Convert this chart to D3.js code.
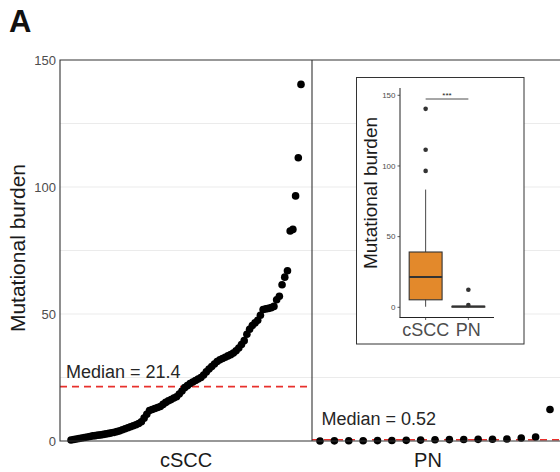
<!DOCTYPE html>
<html>
<head>
<meta charset="utf-8">
<script src="https://cdn.jsdelivr.net/npm/d3@7"></script>
<style>
	body { margin: 0; background: #fff; }
	svg { display: block; font-family: "Liberation Sans", Arial, sans-serif; }
</style>
</head>
<body>
<div id="chart-area"></div>
<script>
// data
const groups = ["cSCC", "PN"]
const cSCC = [0.4, 0.6, 0.8, 1.0, 1.2, 1.4, 1.6, 1.8, 2.0, 2.1, 2.3, 2.4, 2.6, 2.8, 3.0, 3.2, 3.4, 3.7, 4.0, 4.4,
	4.8, 5.2, 5.6, 6.0, 6.4, 6.9, 7.6, 9.0, 10.5, 12.0, 12.4, 12.8, 13.2, 13.6, 14.4, 15.2, 15.8, 16.3, 16.9, 17.4,
	18.5, 19.7, 21.0, 21.8, 22.6, 23.2, 23.8, 24.4, 25.0, 26.0, 27.2, 28.3, 29.3, 30.3, 31.3, 32.0, 32.5, 33.0, 33.5, 34.0,
	34.6, 35.5, 36.6, 38.0, 39.5, 42.0, 44.0, 45.5, 46.5, 47.5, 49.5, 51.8, 52.0, 52.2, 52.5, 53.0, 55.6, 57.0, 61.5, 64.5,
	67.0, 82.7, 83.3, 96.5, 111.5, 140.4]
const PN = [0.02, 0.05, 0.08, 0.1, 0.15, 0.2, 0.25, 0.35, 0.52, 0.55, 0.6, 0.65, 0.7, 0.8, 1.2, 1.6, 12.4]
const yTicks = [0, 50, 100, 150]
const gridValues = [25, 50, 75, 100, 125]
const insetTicks = [0, 50, 100, 150]

const PANEL = { TOP: 60, BOTTOM: 441, LEFT: 60, MID: 312, RIGHT: 566 }
const FONT_INK = "#1a1a1a"
const TICK_INK = "#4d4d4d"

const svg = d3.select("#chart-area").append("svg")
	.attr("width", 560)
	.attr("height", 472)

// scales
const y = d3.scaleLinear().domain([0, 150]).range([PANEL.BOTTOM, PANEL.TOP])
const xC = d3.scaleLinear().domain([0, cSCC.length - 1]).range([PANEL.LEFT + 11, PANEL.MID - 11])
const xP = d3.scaleLinear().domain([0, PN.length - 1]).range([PANEL.MID + 8, 550])

const panels = [
	{ name: "cSCC", values: cSCC, x: xC, x0: PANEL.LEFT, x1: PANEL.MID, labelX: 186, medX: 66, medY: 378 },
	{ name: "PN", values: PN, x: xP, x0: PANEL.MID, x1: PANEL.RIGHT, labelX: 428, medX: 321.5, medY: 425 }
]

// panel label
svg.append("text")
	.attr("x", 9)
	.attr("y", 32)
	.attr("font-size", 31)
	.attr("font-weight", "bold")
	.attr("fill", "#111")
	.text("A")

// grid lines
panels.forEach(p => {
	svg.append("g").selectAll("line").data(gridValues).join("line")
		.attr("x1", p.x0).attr("x2", p.x1)
		.attr("y1", d => y(d)).attr("y2", d => y(d))
		.attr("stroke", "#ebebeb")
		.attr("stroke-width", 1)
})

// y tick labels
svg.append("g").selectAll("text").data(yTicks).join("text")
	.attr("x", 56)
	.attr("y", d => y(d) + 4.5)
	.attr("text-anchor", "end")
	.attr("font-size", 13)
	.attr("fill", TICK_INK)
	.text(d => d)

// y title
svg.append("text")
	.attr("transform", "translate(25, 248) rotate(-90)")
	.attr("text-anchor", "middle")
	.attr("font-size", 21)
	.attr("fill", FONT_INK)
	.text("Mutational burden")

panels.forEach(p => {
	const med = d3.median(p.values)

	// median line
	svg.append("line")
		.attr("x1", p.x0).attr("x2", p.x1)
		.attr("y1", y(med)).attr("y2", y(med))
		.attr("stroke", "#e8302c")
		.attr("stroke-width", 1.6)
		.attr("stroke-dasharray", "7,5")

	// points
	svg.append("g").selectAll("circle").data(p.values).join("circle")
		.attr("cx", (d, i) => p.x(i))
		.attr("cy", d => y(d))
		.attr("r", 3.8)
		.attr("fill", "#000")

	svg.append("text")
		.attr("x", p.medX)
		.attr("y", p.medY)
		.attr("font-size", 18)
		.attr("fill", "#262626")
		.text(`Median = ${+med.toFixed(2)}`)

	// x label
	svg.append("text")
		.attr("x", p.labelX)
		.attr("y", 467)
		.attr("text-anchor", "middle")
		.attr("font-size", 20)
		.attr("fill", FONT_INK)
		.text(p.name)
})

// panel borders
const border = d3.path()
border.moveTo(PANEL.RIGHT, PANEL.TOP)
border.lineTo(PANEL.LEFT, PANEL.TOP)
border.lineTo(PANEL.LEFT, PANEL.BOTTOM)
border.lineTo(PANEL.RIGHT, PANEL.BOTTOM)
border.moveTo(PANEL.MID, PANEL.TOP)
border.lineTo(PANEL.MID, PANEL.BOTTOM)
svg.append("path")
	.attr("d", border.toString())
	.attr("fill", "none")
	.attr("stroke", "#333")
	.attr("stroke-width", 1.1)

//////////////////// INSET BOXPLOT ////////////////////
const inset = svg.append("g")

inset.append("rect")
	.attr("x", 356.5).attr("y", 77.5)
	.attr("width", 167.5).attr("height", 266.5)
	.attr("fill", "#fff")
	.attr("stroke", "#333")
	.attr("stroke-width", 1)

const yi = d3.scaleLinear().domain([0, 150]).range([307.3, 95.3])
const xi = d3.scalePoint().domain(groups).range([400, 494]).padding(0.6)
const boxW = xi.step() * 0.77

// axes
inset.append("line")
	.attr("x1", 400).attr("x2", 400).attr("y1", 88).attr("y2", 317.5)
	.attr("stroke", "#222").attr("stroke-width", 1)
inset.append("line")
	.attr("x1", 399.5).attr("x2", 494).attr("y1", 317.5).attr("y2", 317.5)
	.attr("stroke", "#222").attr("stroke-width", 1)

inset.append("g").selectAll("line").data(insetTicks).join("line")
	.attr("x1", 397.5).attr("x2", 400)
	.attr("y1", d => yi(d)).attr("y2", d => yi(d))
	.attr("stroke", "#333").attr("stroke-width", 0.8)
inset.append("g").selectAll("text").data(insetTicks).join("text")
	.attr("x", 395.5)
	.attr("y", d => yi(d) + 2.8)
	.attr("text-anchor", "end")
	.attr("font-size", 8)
	.attr("fill", TICK_INK)
	.text(d => d)

inset.append("g").selectAll("line").data(groups).join("line")
	.attr("x1", d => xi(d)).attr("x2", d => xi(d))
	.attr("y1", 317.5).attr("y2", 320)
	.attr("stroke", "#333").attr("stroke-width", 0.8)
inset.append("g").selectAll("text").data(groups).join("text")
	.attr("x", d => xi(d))
	.attr("y", 336)
	.attr("text-anchor", "middle")
	.attr("font-size", 18)
	.attr("fill", TICK_INK)
	.text(d => d)

inset.append("text")
	.attr("transform", "translate(377, 193) rotate(-90)")
	.attr("text-anchor", "middle")
	.attr("font-size", 19)
	.attr("fill", FONT_INK)
	.text("Mutational burden")

// box statistics
const stats = panels.map(p => {
	const s = p.values.slice().sort(d3.ascending)
	const q1 = d3.quantile(s, 0.25)
	const q2 = d3.quantile(s, 0.5)
	const q3 = d3.quantile(s, 0.75)
	const iqr = q3 - q1
	const lo = d3.min(s.filter(v => v >= q1 - 1.5 * iqr))
	const hi = d3.max(s.filter(v => v <= q3 + 1.5 * iqr))
	const out = s.filter(v => v < lo || v > hi)
	return { name: p.name, q1, q2, q3, lo, hi, out }
})

stats.forEach(s => {
	const cx = xi(s.name)
	inset.append("line")
		.attr("x1", cx).attr("x2", cx)
		.attr("y1", yi(s.hi)).attr("y2", yi(s.lo))
		.attr("stroke", "#333").attr("stroke-width", 0.9)
	inset.append("rect")
		.attr("x", cx - boxW / 2).attr("width", boxW)
		.attr("y", yi(s.q3)).attr("height", Math.max(yi(s.q1) - yi(s.q3), 0.5))
		.attr("fill", "#e3892b")
		.attr("stroke", "#333")
		.attr("stroke-width", 1.1)
	inset.append("line")
		.attr("x1", cx - boxW / 2).attr("x2", cx + boxW / 2)
		.attr("y1", yi(s.q2)).attr("y2", yi(s.q2))
		.attr("stroke", "#333").attr("stroke-width", 2)
	inset.append("g").selectAll("circle").data(s.out).join("circle")
		.attr("cx", cx)
		.attr("cy", d => yi(d))
		.attr("r", 2.3)
		.attr("fill", "#333")
})

// significance bracket
inset.append("line")
	.attr("x1", xi("cSCC")).attr("x2", xi("PN"))
	.attr("y1", 99).attr("y2", 99)
	.attr("stroke", "#222").attr("stroke-width", 0.8)
inset.append("text")
	.attr("x", (xi("cSCC") + xi("PN")) / 2)
	.attr("y", 97.5)
	.attr("text-anchor", "middle")
	.attr("font-size", 8)
	.attr("fill", "#222")
	.text("***")
</script>
</body>
</html>
